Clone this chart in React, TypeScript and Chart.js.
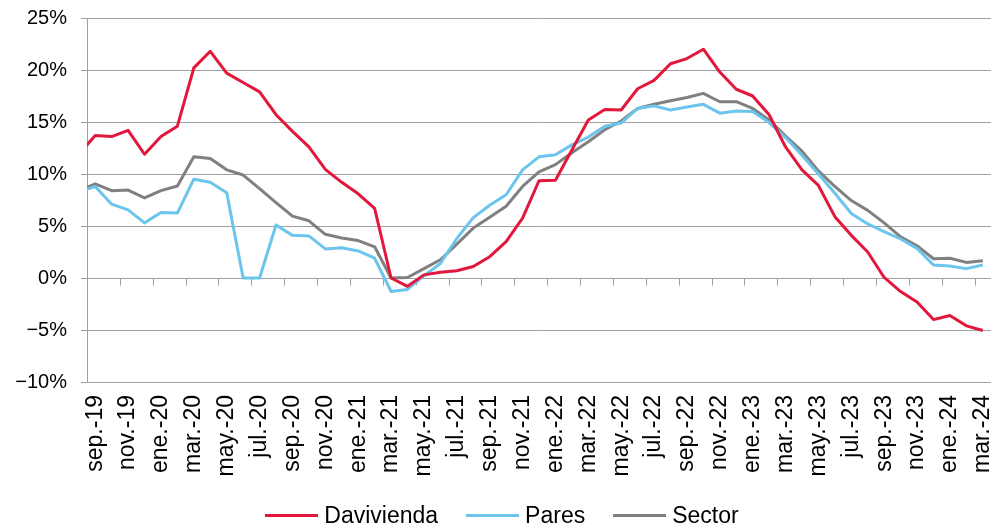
import React, { useEffect, useRef } from "react";
import { Chart, registerables } from "chart.js";

Chart.register(...registerables);

// Monthly categories (first one, ago.-19, lies just left of the plot and is clipped)
const months: string[] = [
  "ago.-19", "sep.-19", "oct.-19", "nov.-19", "dic.-19",
  "ene.-20", "feb.-20", "mar.-20", "abr.-20", "may.-20", "jun.-20", "jul.-20", "ago.-20", "sep.-20", "oct.-20", "nov.-20", "dic.-20",
  "ene.-21", "feb.-21", "mar.-21", "abr.-21", "may.-21", "jun.-21", "jul.-21", "ago.-21", "sep.-21", "oct.-21", "nov.-21", "dic.-21",
  "ene.-22", "feb.-22", "mar.-22", "abr.-22", "may.-22", "jun.-22", "jul.-22", "ago.-22", "sep.-22", "oct.-22", "nov.-22", "dic.-22",
  "ene.-23", "feb.-23", "mar.-23", "abr.-23", "may.-23", "jun.-23", "jul.-23", "ago.-23", "sep.-23", "oct.-23", "nov.-23", "dic.-23",
  "ene.-24", "feb.-24", "mar.-24",
];

// Which category indices carry a label (every second month from sep.-19)
const labelledIdx: number[] = months.map((_, i) => i).filter((i) => i % 2 === 1);

const davivienda: number[] = [
  11.9, 13.7, 13.6, 14.2, 11.9,
  13.6, 14.6, 20.2, 21.8, 19.7, 18.8, 17.9, 15.7, 14.1, 12.6, 10.45, 9.2,
  8.1, 6.7, 0.0, -0.8, 0.3, 0.55, 0.7, 1.1, 2.05, 3.5, 5.75, 9.35,
  9.4, 12.3, 15.2, 16.2, 16.15, 18.2, 19.0, 20.6, 21.1, 22.0, 19.8, 18.15,
  17.5, 15.7, 12.6, 10.4, 8.9, 5.9, 4.1, 2.5, 0.05, -1.3, -2.3, -4.0,
  -3.6, -4.6, -5.05,
];

const pares: number[] = [
  8.3, 8.8, 7.1, 6.55, 5.3,
  6.3, 6.25, 9.5, 9.2, 8.2, 0.0, 0.0, 5.1, 4.1, 4.05, 2.8, 2.9,
  2.6, 1.9, -1.3, -1.1, 0.2, 1.4, 3.8, 5.8, 7.0, 8.0, 10.4, 11.65,
  11.85, 12.8, 13.55, 14.6, 14.9, 16.3, 16.55, 16.15, 16.45, 16.7, 15.85, 16.05,
  16.0, 14.95, 13.5, 11.8, 10.0, 8.15, 6.2, 5.2, 4.45, 3.75, 2.85, 1.25,
  1.15, 0.9, 1.25,
];

const sector: number[] = [
  8.4, 9.05, 8.4, 8.45, 7.7,
  8.4, 8.85, 11.65, 11.5, 10.4, 9.9, 8.6, 7.25, 5.95, 5.5, 4.2, 3.85,
  3.6, 3.0, 0.0, 0.05, 0.9, 1.75, 3.25, 4.8, 5.85, 6.9, 8.8, 10.2,
  10.9, 12.05, 13.1, 14.25, 15.1, 16.3, 16.7, 17.05, 17.35, 17.75, 16.95, 16.95,
  16.3, 15.2, 13.65, 12.2, 10.3, 8.8, 7.45, 6.5, 5.3, 3.95, 3.1, 1.85,
  1.9, 1.5, 1.65,
];

const seriesNames: string[] = ["Davivienda", "Pares", "Sector"];
const seriesColors: string[] = ["#E3173B", "#6CC5EC", "#808080"];

const yMin = -10;
const yMax = 25;
const yStep = 5;

const FONT = '"Liberation Sans", Arial, Helvetica, sans-serif';
const FONT_SIZE = 23;
const Y_FONT_SIZE = 20;
const GRID = "#a0a0a0";

const zeroLineTicks = {
  id: "zeroLineTicks",
  beforeDatasetsDraw(chart: any) {
    const { ctx, scales } = chart;
    const x = scales.x;
    const y = scales.y;
    const y0 = Math.round(y.getPixelForValue(0)) + 0.5;
    ctx.save();
    ctx.strokeStyle = GRID;
    ctx.lineWidth = 1;
    ctx.beginPath();
    // tick marks on category boundaries, every second month
    for (let b = 0.5; b < months.length - 0.5; b += 2) {
      const px = Math.round(x.getPixelForValue(b)) + 0.5;
      ctx.moveTo(px, y0);
      ctx.lineTo(px, y0 + 7);
    }
    ctx.stroke();
    ctx.restore();
  },
};

export default function App() {
  const canvasRef = useRef<HTMLCanvasElement | null>(null);

  useEffect(() => {
    if (!canvasRef.current) return;
    const all = [davivienda, pares, sector];
    const chart = new Chart(canvasRef.current, {
      type: "line",
      data: {
        datasets: all.map((arr, si) => ({
          label: seriesNames[si],
          data: arr.map((v, i) => ({ x: i, y: v })),
          borderColor: seriesColors[si],
          backgroundColor: seriesColors[si],
          borderWidth: 3,
          pointRadius: 0,
          tension: 0,
          borderJoinStyle: "round" as const,
          clip: 0,
        })),
      },
      options: {
        animation: false,
        responsive: false,
        layout: { padding: { top: 18, right: 3, left: 0, bottom: 0 } },
        plugins: {
          legend: { display: false },
          tooltip: { enabled: false },
        },
        scales: {
          x: {
            type: "linear",
            min: 0.5,
            max: months.length - 0.5,
            afterBuildTicks: (s: any) => {
              s.ticks = labelledIdx.map((v) => ({ value: v }));
            },
            afterFit: (s: any) => {
              s.height = 147;
              s.paddingLeft = 0;
              s.paddingRight = 0;
            },
            grid: { display: false, drawTicks: false },
            border: { display: false },
            ticks: {
              autoSkip: false,
              minRotation: 90,
              maxRotation: 90,
              padding: 13,
              color: "#000",
              font: { family: FONT, size: FONT_SIZE },
              callback: (v: any) => months[Math.round(Number(v))],
            },
          },
          y: {
            min: yMin,
            max: yMax,
            afterFit: (s: any) => {
              s.width = 87;
              s.paddingTop = 0;
              s.paddingBottom = 0;
            },
            grid: { color: GRID, lineWidth: 1, tickLength: 6, drawTicks: true },
            border: { display: true, color: GRID, width: 1 },
            ticks: {
              stepSize: yStep,
              padding: 14,
              color: "#000",
              font: { family: FONT, size: Y_FONT_SIZE },
              callback: (v: any) => (Number(v) < 0 ? "\u2212" + Math.abs(Number(v)) : String(v)) + "%",
            },
          },
        },
      },
      plugins: [zeroLineTicks],
    });
    return () => chart.destroy();
  }, []);

  return (
    <div style={{ position: "absolute", left: 0, top: 0, width: 994, height: 529, background: "#fff" }}>
      <canvas ref={canvasRef} width={994} height={529} style={{ display: "block" }} />
      <div
        style={{
          position: "absolute",
          left: 0,
          width: 994,
          top: 501,
          height: 28,
          display: "flex",
          justifyContent: "center",
          alignItems: "center",
          paddingLeft: 10,
          boxSizing: "border-box",
          fontFamily: FONT,
          fontSize: FONT_SIZE,
          color: "#000",
        }}
      >
        {seriesNames.map((name, i) => (
          <div key={name} style={{ display: "flex", alignItems: "center", marginLeft: i === 0 ? 0 : 28 }}>
            <span style={{ display: "inline-block", width: 53, height: 3, background: seriesColors[i], marginRight: 6 }} />
            <span>{name}</span>
          </div>
        ))}
      </div>
    </div>
  );
}
